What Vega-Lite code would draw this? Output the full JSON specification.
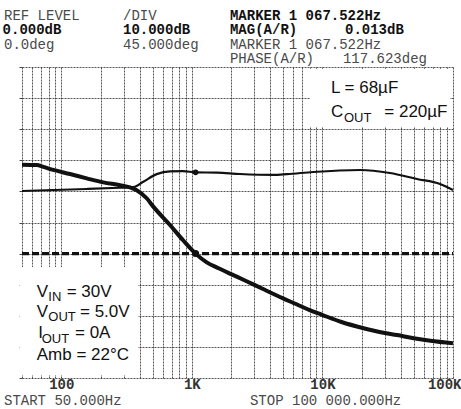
{
  "$schema": "https://vega.github.io/schema/vega-lite/v6.json",
  "width": 431,
  "height": 311,
  "autosize": {"type": "none"},
  "padding": {"left": 22, "top": 67, "right": 8, "bottom": 31},
  "background": "white",
  "config": {"view": {"stroke": null}},
  "datasets": {
    "gain": [
      {"f": 50, "v": 28.6}, {"f": 64.8, "v": 28.5}, {"f": 72.8, "v": 27.9}, {"f": 86.8, "v": 26.9},
      {"f": 116.6, "v": 25.6}, {"f": 156.5, "v": 24.2}, {"f": 209.7, "v": 22.9}, {"f": 281.6, "v": 22.0},
      {"f": 335.8, "v": 21.3}, {"f": 377.9, "v": 20.4}, {"f": 450.8, "v": 17.8}, {"f": 506.5, "v": 15.1},
      {"f": 680, "v": 9.2}, {"f": 860, "v": 4.2}, {"f": 1067.5, "v": 0.0}, {"f": 1300, "v": -2.8},
      {"f": 1600, "v": -4.7}, {"f": 2000, "v": -6.6}, {"f": 2600, "v": -8.8}, {"f": 3510, "v": -11.4},
      {"f": 5000, "v": -14.4}, {"f": 6340, "v": -16.3}, {"f": 8000, "v": -18.2}, {"f": 9950, "v": -19.7},
      {"f": 14000, "v": -22.0}, {"f": 20650, "v": -24.0}, {"f": 28000, "v": -25.3}, {"f": 37350, "v": -26.2},
      {"f": 50000, "v": -27.2}, {"f": 67040, "v": -28.0}, {"f": 100000, "v": -28.8}
    ],
    "phase": [
      {"f": 50, "p": 90.6}, {"f": 86.8, "p": 92.0}, {"f": 156.5, "p": 93.5}, {"f": 281.6, "p": 95.3},
      {"f": 356, "p": 96.2}, {"f": 424.6, "p": 104.0}, {"f": 537.6, "p": 115.0}, {"f": 680, "p": 119.0},
      {"f": 855, "p": 119.2}, {"f": 1067.5, "p": 117.6}, {"f": 1558, "p": 117.1}, {"f": 2336, "p": 115.2},
      {"f": 4181, "p": 113.9}, {"f": 5355, "p": 115.0}, {"f": 8474, "p": 118.1}, {"f": 19410, "p": 121.0},
      {"f": 32900, "p": 116.6}, {"f": 52970, "p": 107.9}, {"f": 79460, "p": 100.7}, {"f": 100000, "p": 92.0}
    ],
    "ref": [{"f": 50, "v": 0}, {"f": 100000, "v": 0}],
    "marker": [{"f": 1067.522, "v": 0.013, "p": 117.623}],
    "boxes": [
      {"f": 8030, "f2": 94850, "v": 40.7, "v2": 59.4},
      {"f": 48, "f2": 387, "v": -39.0, "v2": -4.3}
    ],
    "hdr": [
      {"t": "REF LEVEL", "f": 36.4, "v": 75.11},
      {"t": "/DIV", "f": 296.8, "v": 75.11},
      {"t": "0.0deg", "f": 36.4, "v": 65.79},
      {"t": "45.000deg", "f": 296.8, "v": 65.79},
      {"t": "MARKER 1 067.522Hz", "f": 1958, "v": 65.79},
      {"t": "PHASE(A/R)", "f": 1958, "v": 61.29},
      {"t": "117.623deg", "f": 14360, "v": 61.29},
      {"t": "START 50.000Hz", "f": 36.4, "v": -48.6},
      {"t": "STOP 100 000.000Hz", "f": 2786, "v": -48.6}
    ],
    "hdrBold": [
      {"t": "MARKER 1 067.522Hz", "f": 1958, "v": 75.11},
      {"t": "0.000dB", "f": 35.5, "v": 70.61},
      {"t": "10.000dB", "f": 296.8, "v": 70.61},
      {"t": "MAG(A/R)", "f": 1958, "v": 70.61},
      {"t": "0.013dB", "f": 14890, "v": 70.61}
    ],
    "leg": [
      {"t": "L = 68µF", "f": 11630, "v": 51.74},
      {"t": "C", "f": 11630, "v": 43.92},
      {"t": "= 220µF", "f": 29770, "v": 43.92},
      {"t": "V", "f": 64.8, "v": -13.86},
      {"t": "= 30V", "f": 110.0, "v": -13.86},
      {"t": "V", "f": 64.8, "v": -20.29},
      {"t": "= 5.0V", "f": 139.1, "v": -20.29},
      {"t": "I", "f": 66.7, "v": -27.24},
      {"t": "= 0A", "f": 127.3, "v": -27.24},
      {"t": "Amb = 22°C", "f": 64.8, "v": -34.21}
    ],
    "legSub": [
      {"t": "OUT", "f": 14625, "v": 43.92},
      {"t": "IN", "f": 79.5, "v": -13.86},
      {"t": "OUT", "f": 79.5, "v": -20.29},
      {"t": "OUT", "f": 70.7, "v": -27.24}
    ]
  },
  "encoding": {
    "x": {
      "field": "f",
      "type": "quantitative",
      "scale": {"type": "log", "domain": [50, 100000], "nice": false},
      "axis": {
        "values": [50, 60, 70, 80, 90, 100, 200, 300, 400, 500, 600, 700, 800, 900, 1000, 2000, 3000, 4000, 5000, 6000, 7000, 8000, 9000, 10000, 20000, 30000, 40000, 50000, 60000, 70000, 80000, 90000, 100000],
        "grid": true,
        "gridColor": "#2a2a2a",
        "gridDash": [2, 1],
        "gridWidth": 0.8,
        "domain": false,
        "ticks": false,
        "tickSize": 0,
        "labelExpr": "datum.value == 100 ? '100' : datum.value == 1000 ? '1K' : datum.value == 10000 ? '10K' : datum.value == 100000 ? '100K' : ''",
        "labelFont": "Liberation Mono",
        "labelFontWeight": "bold",
        "labelFontSize": 14,
        "labelColor": "#333",
        "labelPadding": 10,
        "labelBaseline": "alphabetic",
        "labelFlush": true,
        "labelFlushOffset": 8,
        "labelOverlap": false,
        "labelBound": false,
        "title": null
      }
    }
  },
  "layer": [
    {
      "data": {"name": "gain"},
      "mark": {"type": "line", "color": "#111", "strokeWidth": 4, "interpolate": "monotone"},
      "encoding": {
        "y": {
          "field": "v", "type": "quantitative",
          "scale": {"domain": [-40, 60], "nice": false, "zero": false},
          "axis": {
            "orient": "left",
            "values": [-40, -30, -20, -10, 0, 10, 20, 30, 40, 50, 60],
            "grid": true,
            "gridColor": "#2a2a2a",
            "gridDash": [2, 1],
            "gridWidth": 0.8,
            "labels": false,
            "ticks": true,
            "tickSize": 3,
            "tickColor": "#444",
            "domain": false,
            "title": null
          }
        }
      }
    },
    {
      "data": {"name": "boxes"},
      "mark": {"type": "rect", "color": "white", "opacity": 1},
      "encoding": {
        "x2": {"field": "f2"},
        "y": {"field": "v", "type": "quantitative", "scale": {"domain": [-40, 60], "nice": false, "zero": false}, "axis": null},
        "y2": {"field": "v2"}
      }
    },
    {
      "data": {"name": "phase"},
      "mark": {"type": "line", "color": "#111", "strokeWidth": 2.2, "interpolate": "monotone"},
      "encoding": {
        "y": {"field": "p", "type": "quantitative", "scale": {"domain": [-180, 270], "nice": false, "zero": false}, "axis": null}
      }
    },
    {
      "data": {"name": "ref"},
      "mark": {"type": "line", "color": "#111", "strokeWidth": 3.2, "strokeDash": [7, 3]},
      "encoding": {
        "y": {"field": "v", "type": "quantitative", "scale": {"domain": [-40, 60], "nice": false, "zero": false}, "axis": null}
      }
    },
    {
      "data": {"name": "marker"},
      "mark": {"type": "point", "filled": true, "color": "#111", "size": 50, "opacity": 1},
      "encoding": {
        "y": {"field": "v", "type": "quantitative", "scale": {"domain": [-40, 60], "nice": false, "zero": false}, "axis": null}
      }
    },
    {
      "data": {"name": "marker"},
      "mark": {"type": "point", "filled": true, "color": "#111", "size": 32, "opacity": 1},
      "encoding": {
        "y": {"field": "p", "type": "quantitative", "scale": {"domain": [-180, 270], "nice": false, "zero": false}, "axis": null}
      }
    },
    {
      "data": {"name": "hdr"},
      "mark": {"type": "text", "font": "Liberation Mono", "fontSize": 14, "color": "#4a4a4a", "align": "left", "baseline": "alphabetic"},
      "encoding": {
        "y": {"field": "v", "type": "quantitative", "scale": {"domain": [-40, 60], "nice": false, "zero": false}, "axis": null},
        "text": {"field": "t"}
      }
    },
    {
      "data": {"name": "hdrBold"},
      "mark": {"type": "text", "font": "Liberation Mono", "fontSize": 14, "fontWeight": "bold", "color": "#111", "align": "left", "baseline": "alphabetic"},
      "encoding": {
        "y": {"field": "v", "type": "quantitative", "scale": {"domain": [-40, 60], "nice": false, "zero": false}, "axis": null},
        "text": {"field": "t"}
      }
    },
    {
      "data": {"name": "leg"},
      "mark": {"type": "text", "font": "Liberation Sans", "fontSize": 17, "color": "#111", "align": "left", "baseline": "alphabetic"},
      "encoding": {
        "y": {"field": "v", "type": "quantitative", "scale": {"domain": [-40, 60], "nice": false, "zero": false}, "axis": null},
        "text": {"field": "t"}
      }
    },
    {
      "data": {"name": "legSub"},
      "mark": {"type": "text", "font": "Liberation Sans", "fontSize": 13, "color": "#111", "align": "left", "baseline": "alphabetic", "dy": 4.5},
      "encoding": {
        "y": {"field": "v", "type": "quantitative", "scale": {"domain": [-40, 60], "nice": false, "zero": false}, "axis": null},
        "text": {"field": "t"}
      }
    }
  ],
  "resolve": {"scale": {"y": "independent"}}
}
